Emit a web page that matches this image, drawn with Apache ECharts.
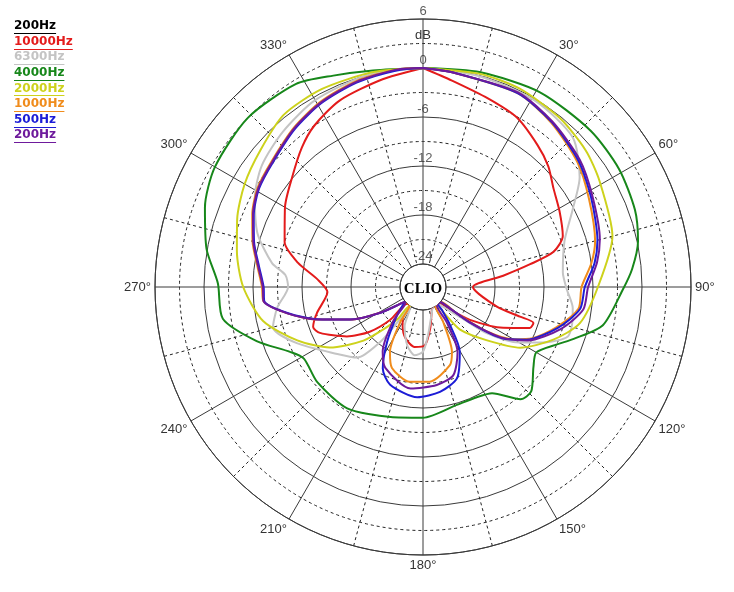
<!DOCTYPE html>
<html><head><meta charset="utf-8">
<script src="https://cdn.jsdelivr.net/npm/echarts@6/dist/echarts.min.js"></script>
<style>html,body{margin:0;padding:0;background:#fff}#c{width:734px;height:592px}</style>
</head><body><div id="c"></div>
<script>
// ---- legend ----
const legendNames = ['200Hz','10000Hz','6300Hz','4000Hz','2000Hz','1000Hz','500Hz','200Hz'];
const legendColors = ['#000000','#e31b1b','#c4c4c4','#17871a','#cdd21c','#f08c1c','#1c1cd6','#6e1a9c'];

// ---- axis ticks ----
const radiusTickLabels = [6, 0, -6, -12, -18, -24];
const angleLabelStep = 30;

// ---- series: [angle (deg, clockwise from top), level (dB)] ----
const hz10000 = [[0,0],[8,-1.3],[19,-2.4],[29,-3.1],[39,-4.5],[46,-5.5],[53,-6.8],[61,-7.7],[70,-8.6],[75,-10.3],[78,-13.4],[82,-16.9],[90,-20.7],[105,-17.4],[107,-14.4],[108,-12.6],[111,-12.8],[117,-15.8],[125,-19.8],[130,-22.5],[134,-24],[155,-24],[159,-23.8],[170,-21.7],[178,-19.7],[188,-19.4],[199,-20.2],[208,-21.5],[213,-22.3],[216,-24],[223,-24],[225,-21.1],[230,-18.3],[237,-15.7],[246,-13.0],[250,-12.5],[256,-13.4],[267,-15.1],[274,-13.9],[281,-11.2],[288,-9.0],[300,-7.3],[310,-5.9],[319,-4.2],[326,-3.0],[336,-1.8],[349,-0.9],[360,0]];
const hz6300 = [[0,0],[15,-0.1],[31,-0.2],[45,-0.9],[55,-3.4],[63,-6.3],[72,-8.6],[84,-9.6],[91,-9.2],[98,-8.3],[104,-8.0],[109,-8.1],[114,-10.2],[120,-13.2],[126,-17.2],[129,-21],[135,-23.4],[138,-24],[155,-24],[160,-23.6],[174,-20.9],[180,-18.9],[187,-18.4],[195,-19.4],[205,-21.5],[210,-23.5],[214,-24],[216,-21.4],[218,-18.2],[223,-15],[232,-13.5],[246,-9.9],[255,-7.8],[262,-8.8],[270,-10.3],[275,-9.9],[279,-8.1],[288,-5.5],[298,-3.5],[307,-2.1],[318,-1.2],[330,-0.4],[345,0],[360,0]];
const hz4000 = [[0,0],[15,0.4],[31,1.0],[47,1.25],[59,1.2],[70,0.8],[78,0.1],[85,-1.1],[91,-2.4],[102,-4.3],[109,-7.3],[113,-8.9],[120,-10.8],[126,-10.1],[134,-8.4],[139,-8.6],[147,-11.3],[154,-11.8],[164,-11.8],[180,-10.8],[194,-10.4],[212,-9.3],[228,-9.4],[239,-9.8],[244,-8.7],[252,-5.4],[261,-2.0],[271,-1.7],[280,0.1],[290,1.6],[300,2.6],[314,3.0],[328,2.5],[337,1.3],[347,0.4],[360,0]];
const hz2000 = [[0,0],[15,0.2],[26,0.2],[39,-0.2],[50,-0.8],[59,-1.6],[75,-2.8],[90,-5.4],[103,-7.1],[112,-9.6],[122,-12.8],[130,-16.7],[139,-19.9],[141,-22.5],[144,-24],[214,-24],[218,-22],[222,-20.2],[228,-17],[237,-13.2],[247,-10.1],[258,-6.8],[270,-4.8],[281,-3.6],[290,-2.6],[300,-1.6],[310,-0.8],[321,0.3],[333,0.4],[347,0.2],[360,0]];
const hz1000 = [[0,0],[8,-0.3],[26,-0.4],[38,-1.3],[51,-2.5],[62,-3.8],[75,-5.0],[82,-6.0],[90,-7.4],[98,-7.6],[107,-9.8],[115,-12.0],[120,-14.0],[125,-17.5],[128,-21.5],[130,-24],[147,-24],[150,-21.9],[156,-18.1],[161,-16.7],[176,-15.2],[188,-15.1],[201,-16.2],[207,-17.9],[213,-21.7],[216,-24],[229,-24],[232,-23.7],[239,-20.7],[246,-17.0],[253,-13.2],[259,-9.9],[265,-7.2],[270,-7.1],[277,-6.4],[285,-5.2],[293,-4.1],[301,-3.2],[310,-2.7],[321,-1.7],[331,-0.9],[342,-0.3],[353,0],[360,0]];
const hz500 = [[0,0],[8,-0.3],[26,-0.4],[38,-1.2],[51,-2.3],[62,-3.5],[75,-4.7],[82,-5.6],[90,-7.0],[98,-7.4],[107,-9.6],[117,-12.6],[123,-15.3],[127,-19.4],[129,-23.3],[131,-24],[139,-24],[140.4,-23.2],[144.6,-21.1],[150.4,-17.7],[159.5,-14.9],[170.8,-13.8],[183,-13.3],[198.6,-14.2],[206.3,-15.7],[213.2,-18.8],[222,-22],[228,-23.5],[230,-24],[232,-23.7],[239,-20.6],[246,-17.0],[253,-13.3],[259,-10.0],[265,-7.3],[270,-7.3],[277,-6.6],[285,-5.4],[293,-4.3],[301,-3.4],[310,-2.9],[321,-1.9],[331,-1.1],[342,-0.5],[353,-0.1],[360,0]];
const hz200 = [[0,0],[8,-0.3],[26,-0.3],[38,-1.1],[51,-2.1],[62,-3.3],[75,-4.4],[82,-5.3],[90,-6.6],[98,-7.0],[107,-9.2],[117,-12.4],[123,-15.5],[127,-19.6],[129,-23.3],[131,-24],[143,-24],[146,-21.6],[152,-17.8],[161,-15.4],[172,-14.7],[187,-14.3],[205,-15.9],[212,-17.5],[221,-21.2],[225,-23.5],[229,-24],[232,-23.7],[239,-20.7],[246,-17.0],[253,-13.2],[259,-9.9],[265,-7.2],[270,-7.2],[277,-6.5],[285,-5.3],[293,-4.2],[301,-3.3],[310,-2.8],[321,-1.8],[331,-1.0],[342,-0.4],[353,0],[360,0]];

const plotted = [
  {name:'10000Hz', data:hz10000, color:legendColors[1]},
  {name:'6300Hz', data:hz6300, color:legendColors[2]},
  {name:'4000Hz', data:hz4000, color:legendColors[3]},
  {name:'2000Hz', data:hz2000, color:legendColors[4]},
  {name:'1000Hz', data:hz1000, color:legendColors[5]},
  {name:'500Hz', data:hz500, color:legendColors[6]},
  {name:'200Hz', data:hz200, color:legendColors[7]}
];

const CX = 423, CY = 287, R0 = 23, R1 = 268;
const pxPerDb = (R1 - R0) / 30;
const gridSolid = '#3a3a3a';
const gridDash = '#222';

const chart = echarts.init(document.getElementById('c'), null, {renderer:'canvas'});

const series = plotted.map(s => ({
  type:'line', name:s.name, coordinateSystem:'polar', polarIndex:0,
  data: s.data.map(p => [p[1], p[0]]),
  showSymbol:false, smooth:0.25, clip:true, silent:true,
  lineStyle:{color:s.color, width:2}, z:5
}));
series.push({
  type:'scatter', coordinateSystem:'polar', polarIndex:0, silent:true,
  symbolSize:0, data: radiusTickLabels.map(v => [v, 0]),
  label:{show:true, position:'top', distance:1, formatter:p => String(p.value[0]),
    color:'#333', fontSize:13, fontFamily:'Liberation Sans, Arial, sans-serif'},
  z:6
});

// legend graphics
const mctx = document.createElement('canvas').getContext('2d');
const legendFont = 'bold 12px "DejaVu Sans"';
mctx.font = legendFont;
const graphics = [];
legendNames.forEach((n, i) => {
  const y = 27 + i * 15.6;
  const w = mctx.measureText(n).width;
  graphics.push({type:'text', left:14, top:y - 7, style:{text:n, fill:legendColors[i], font:legendFont}});
  graphics.push({type:'line', shape:{x1:14, y1:Math.round(y + 6) + 0.5, x2:14 + w, y2:Math.round(y + 6) + 0.5}, style:{stroke:legendColors[i], lineWidth:1}});
});
graphics.push({type:'text', x:CX, y:35, style:{text:'dB', fill:'#333', font:'13px "Liberation Sans"', textAlign:'center', textVerticalAlign:'middle'}, z:10});
graphics.push({type:'text', x:CX, y:CY + 2, style:{text:'CLIO', fill:'#000', font:'bold 15px "Liberation Serif"', textAlign:'center', textVerticalAlign:'middle'}, z:10});

chart.setOption({
  animation:false,
  backgroundColor:'#fff',
  polar:[
    {center:[CX, CY], radius:[R0, R1]},
    {center:[CX, CY], radius:[R0 + 3 * pxPerDb, R1 - 3 * pxPerDb]},
    {center:[CX, CY], radius:[R0, R1]}
  ],
  angleAxis:[
    {polarIndex:0, type:'value', min:0, max:360, interval:angleLabelStep, startAngle:90, clockwise:true,
      axisLine:{show:true, lineStyle:{color:gridSolid, width:1}},
      axisTick:{show:false},
      axisLabel:{show:true, margin:4, color:'#333', fontSize:13, fontFamily:'Liberation Sans, Arial, sans-serif',
        formatter:v => (v === 0 || v === 360) ? '' : v + '°'},
      splitLine:{show:true, lineStyle:{color:gridSolid, width:1}}
    },
    {polarIndex:1, type:'value', min:0, max:360, show:false},
    {polarIndex:2, type:'value', min:0, max:360, interval:angleLabelStep, startAngle:75, clockwise:true,
      axisLine:{show:false}, axisTick:{show:false}, axisLabel:{show:false},
      splitLine:{show:true, lineStyle:{color:gridDash, width:1, type:[3,3]}}
    }
  ],
  radiusAxis:[
    {polarIndex:0, type:'value', min:-24, max:6, interval:6,
      axisLine:{show:false}, axisTick:{show:false}, axisLabel:{show:false},
      splitLine:{show:true, lineStyle:{color:gridSolid, width:1}}
    },
    {polarIndex:1, type:'value', min:-21, max:3, interval:6,
      axisLine:{show:false}, axisTick:{show:false}, axisLabel:{show:false},
      splitLine:{show:true, lineStyle:{color:gridDash, width:1, type:[3,3]}}
    },
    {polarIndex:2, type:'value', min:-24, max:6, show:false}
  ],
  graphic:graphics,
  series:series
});
</script></body></html>
